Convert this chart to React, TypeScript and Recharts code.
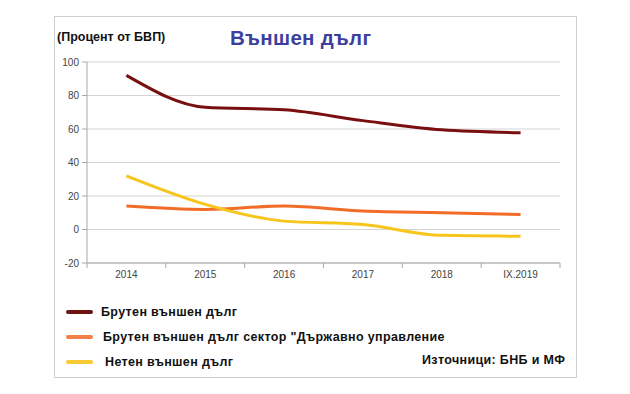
import { LineChart, Line, XAxis, YAxis, CartesianGrid } from 'recharts'

// Външен дълг, % от БВП
const categories = ['2014', '2015', '2016', '2017', '2018', 'IX.2019']
const grossDebt = [92, 73, 71.5, 65, 59.5, 57.8]
const govtDebt = [14, 12, 14, 11, 10, 9]
const netDebt = [32, 15, 5, 3, -3.5, -4]
const yTicks = [-20, 0, 20, 40, 60, 80, 100]

const seriesNames = [
  'Брутен външен дълг',
  'Брутен външен дълг сектор "Държавно управление',
  'Нетен външен дълг',
]
const seriesColors = ['#7a0f0f', '#f06c28', '#f7c51c']
const legendColors = ['#6e1212', '#f28048', '#f7cb34']

const data = categories.map((c, i) => ({
  x: i,
  label: c,
  gross: grossDebt[i],
  govt: govtDebt[i],
  net: netDebt[i],
}))

// tick marks on band edges, labels in band centres
const xTicks: number[] = []
for (let i = -1; i < categories.length; i++) {
  if (i >= 0) xTicks.push(i)
  xTicks.push(i + 0.5)
}

const font = '"Liberation Sans", Arial, sans-serif'
const narrow = '"Liberation Sans Narrow", "Liberation Sans", Arial, sans-serif'

function XTick(props: any) {
  const { x, y, payload } = props
  const v = payload.value
  if (Number.isInteger(v)) {
    return (
      <text x={x} y={y + 15} textAnchor="middle" fontSize={10} fontFamily={narrow} fill="#444">
        {categories[v]}
      </text>
    )
  }
  return <line x1={x} y1={y} x2={x} y2={y + 5} stroke="#a8a8a8" />
}

const textOffsets = [8, 10, 12]

export default function App() {
  return (
    <div style={{ position: 'absolute', left: 0, top: 0, width: 630, height: 394, background: '#fff', fontFamily: font }}>
      <div
        style={{
          position: 'absolute',
          left: 54,
          top: 16,
          width: 521,
          height: 360,
          border: '1px solid #cfcfcf',
        }}
      />
      <div style={{ position: 'absolute', left: 57, top: 30, fontSize: 12.5, fontWeight: 'bold', color: '#111' }}>
        (Процент от БВП)
      </div>
      <div style={{ position: 'absolute', left: 230, top: 26, fontSize: 20.5, fontWeight: 'bold', color: '#3d3f9e', letterSpacing: 0.3 }}>
        Външен дълг
      </div>

      <div style={{ position: 'absolute', left: 0, top: 0 }}>
        <LineChart width={630} height={394} data={data} margin={{ top: 62, right: 70, bottom: 101, left: 0 }}>
          <CartesianGrid vertical={false} stroke="#d4d4d4" />
          <XAxis
            dataKey="x"
            type="number"
            domain={[-0.5, 5.5]}
            ticks={xTicks}
            interval={0}
            height={30}
            tickLine={false}
            tickSize={0}
            tickMargin={0}
            tick={<XTick />}
            stroke="#a8a8a8"
          />
          <YAxis
            type="number"
            domain={[-20, 100]}
            ticks={yTicks}
            interval={0}
            width={87}
            tickSize={5}
            tickMargin={3}
            stroke="#a8a8a8"
            tick={{ fontSize: 10, fill: '#444', fontFamily: narrow }}
          />
          <YAxis yAxisId="r" orientation="right" width={0} tick={false} tickLine={false} stroke="#c4c4c4" domain={[-20, 100]} />
          <Line dataKey="gross" type="monotone" stroke={seriesColors[0]} strokeWidth={3} dot={false} isAnimationActive={false} />
          <Line dataKey="govt" type="monotone" stroke={seriesColors[1]} strokeWidth={3} dot={false} isAnimationActive={false} />
          <Line dataKey="net" type="monotone" stroke={seriesColors[2]} strokeWidth={3} dot={false} isAnimationActive={false} />
        </LineChart>
      </div>

      {seriesNames.map((name, i) => (
        <div
          key={name}
          style={{ position: 'absolute', left: 66, top: 303 + i * 25, height: 18, display: 'flex', alignItems: 'center' }}
        >
          <div style={{ width: 27, height: 4, background: legendColors[i], borderRadius: 2 }} />
          <span style={{ marginLeft: textOffsets[i], fontSize: 12.5, fontWeight: 'bold', color: '#111', letterSpacing: 0.35 }}>
            {name}
          </span>
        </div>
      ))}
      <div style={{ position: 'absolute', left: 422, top: 353, fontSize: 12.5, fontWeight: 'bold', color: '#111', letterSpacing: 0.35 }}>
        Източници: БНБ и МФ
      </div>
    </div>
  )
}
